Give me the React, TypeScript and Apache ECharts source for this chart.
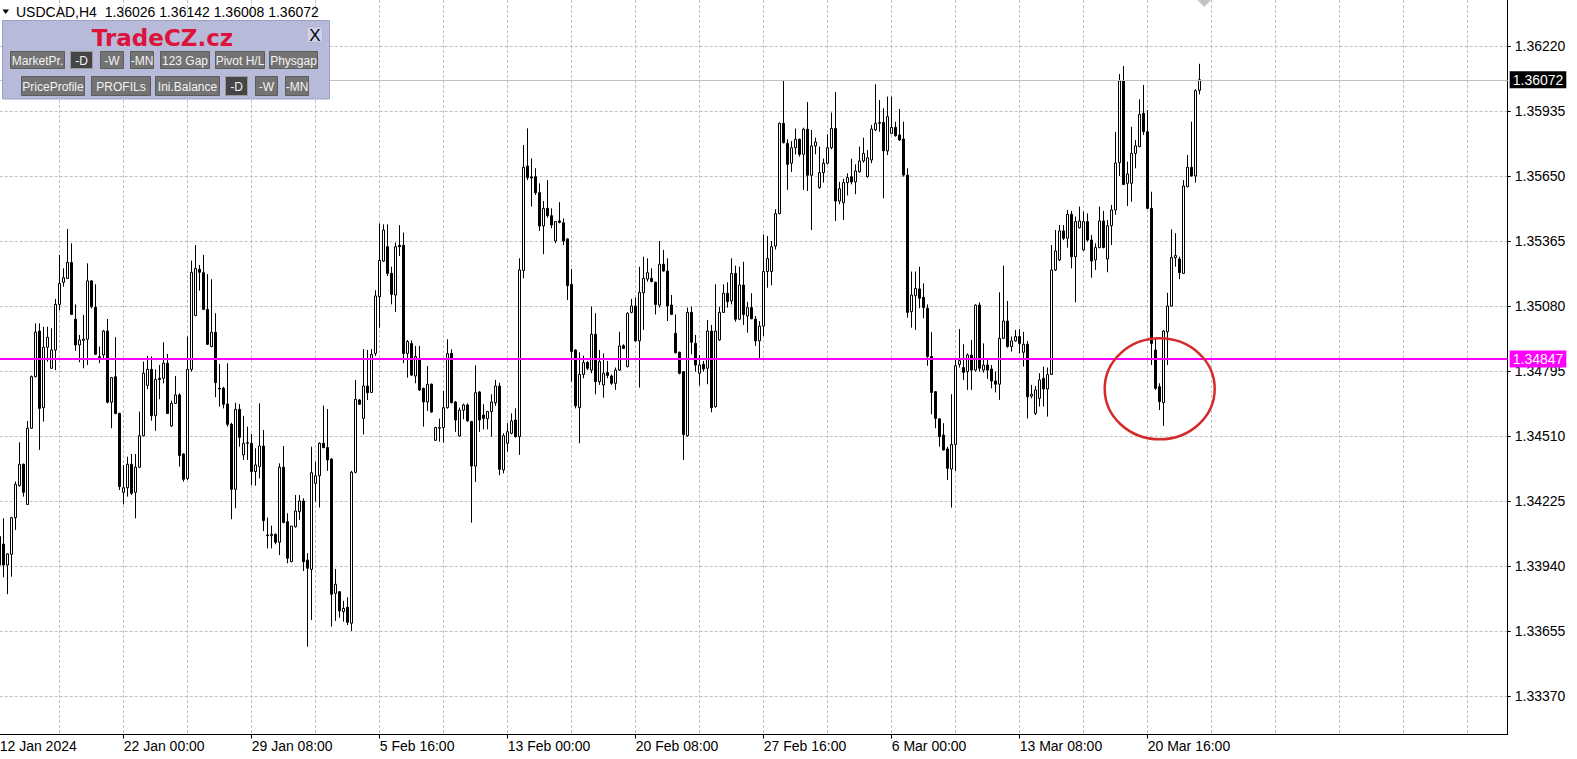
import React, { useEffect, useRef } from "react";
import * as echarts from "echarts";

// ---- Data (USDCAD, H4) : open / high / low / close per bar ----
const opens = [
  1.34069,1.34036,1.33944,1.33991,1.34152,1.34292,1.34386,1.34210,1.34544,1.34770,
  1.34970,1.34634,1.34899,1.34807,1.34887,1.35087,1.35184,1.35201,1.35271,1.35022,
  1.34909,1.34929,1.34934,1.35190,1.35074,1.34853,1.34865,1.34970,1.34658,1.34770,
  1.34609,1.34263,1.34283,1.34386,1.34263,1.34373,1.34511,1.34732,1.34802,1.34599,
  1.34763,1.34763,1.34829,1.34554,1.34653,1.34690,1.34431,1.34324,1.34802,1.35038,
  1.35241,1.35226,1.35065,1.34902,1.34965,1.34719,1.34719,1.34650,1.34561,1.34276,
  1.34627,1.34427,1.34478,1.34478,1.34354,1.34376,1.34466,1.34076,1.34073,1.34079,
  1.34044,1.34373,1.34134,1.33959,1.34112,1.34178,1.34225,1.33966,1.33925,1.34302,
  1.34336,1.34478,1.34459,1.34409,1.33820,1.33827,1.33740,1.33759,1.33689,1.34351,
  1.34668,1.34587,1.34729,1.34701,1.34872,1.35121,1.35277,1.35340,1.35223,1.35128,
  1.35346,1.35346,1.34872,1.34915,1.34773,1.34849,1.34719,1.34659,1.34737,1.34491,
  1.34544,1.34547,1.34634,1.34872,1.34659,1.34510,1.34623,1.34646,1.34573,1.34378,
  1.34703,1.34602,1.34586,1.34617,1.34656,1.34729,1.34361,1.34478,1.34522,1.34580,
  1.34507,1.35235,1.35694,1.35646,1.35647,1.35577,1.35431,1.35508,1.35476,1.35365,
  1.35453,1.35445,1.35374,1.35175,1.34887,1.34634,1.34780,1.34832,1.34799,1.34956,
  1.34748,1.34734,1.34788,1.34773,1.34741,1.34799,1.34906,1.34814,1.35052,1.35080,
  1.34927,1.35138,1.35198,1.35201,1.35184,1.35084,1.35263,1.35233,1.35084,1.34960,
  1.34877,1.34792,1.34511,1.35052,1.34916,1.34785,1.34824,1.34807,1.34970,1.34639,
  1.34931,1.35052,1.35136,1.35102,1.35223,1.35022,1.35172,1.35036,1.35073,1.35022,
  1.34927,1.34992,1.35231,1.35231,1.35343,1.35485,1.35881,1.35793,1.35706,1.35774,
  1.35811,1.35745,1.35855,1.35653,1.35782,1.35599,1.35665,1.35706,1.35774,1.35858,
  1.35540,1.35533,1.35621,1.35647,1.35624,1.35668,1.35716,1.35647,1.35720,1.35852,
  1.35881,1.35885,1.35760,1.35837,1.35863,1.35830,1.35812,1.35654,1.35055,1.35125,
  1.35155,1.35118,1.35070,1.34858,1.34704,1.34585,1.34514,1.34453,1.34365,1.34473,
  1.34824,1.34810,1.34792,1.34865,1.34799,1.35084,1.34799,1.34821,1.34804,1.34751,
  1.34737,1.34938,1.35014,1.34902,1.34927,1.34946,1.34877,1.34912,1.34685,1.34609,
  1.34675,1.34763,1.34716,1.34780,1.35238,1.35282,1.35409,1.35377,1.35482,1.35296,
  1.35423,1.35326,1.35450,1.35369,1.35282,1.35336,1.35453,1.35286,1.35432,1.35501,
  1.35708,1.36067,1.35618,1.35618,1.35749,1.35779,1.35925,1.35844,1.35508,1.34887,
  1.34726,1.34656,1.34967,1.35080,1.35292,1.35286,1.35223,1.35603,1.35688,1.35650,
  1.36026,
];
const highs = [
  1.34083,1.34149,1.33996,1.34155,1.34310,1.34482,1.34389,1.34576,1.34775,1.35004,
  1.35004,1.34989,1.34989,1.34982,1.35111,1.35304,1.35245,1.35418,1.35355,1.35087,
  1.34953,1.35041,1.35267,1.35193,1.35175,1.34902,1.34975,1.35023,1.34769,1.34943,
  1.34612,1.34383,1.34419,1.34431,1.34431,1.34617,1.34836,1.34861,1.34858,1.34802,
  1.34821,1.34921,1.34870,1.34665,1.34773,1.34697,1.34434,1.34946,1.35279,1.35347,
  1.35260,1.35304,1.35220,1.35197,1.35048,1.34826,1.34726,1.34829,1.34568,1.34656,
  1.34650,1.34598,1.34551,1.34519,1.34456,1.34653,1.34536,1.34152,1.34117,1.34082,
  1.34390,1.34466,1.34171,1.34115,1.34251,1.34251,1.34237,1.33996,1.34463,1.34397,
  1.34482,1.34643,1.34628,1.34412,1.33927,1.33830,1.33787,1.33803,1.34357,1.34756,
  1.34672,1.34891,1.34887,1.34891,1.35149,1.35442,1.35438,1.35438,1.35252,1.35358,
  1.35434,1.35402,1.34931,1.34929,1.34905,1.34905,1.34722,1.34817,1.34740,1.34550,
  1.34586,1.34707,1.34934,1.34890,1.34663,1.34634,1.34652,1.34653,1.34576,1.34820,
  1.34707,1.34649,1.34620,1.34693,1.34756,1.34744,1.34522,1.34566,1.34609,1.34631,
  1.35289,1.35786,1.35859,1.35727,1.35684,1.35618,1.35540,1.35632,1.35508,1.35453,
  1.35535,1.35464,1.35377,1.35242,1.34890,1.34877,1.34862,1.34839,1.35077,1.35048,
  1.34887,1.34872,1.34839,1.34780,1.34810,1.34967,1.34912,1.35052,1.35111,1.35117,
  1.35252,1.35296,1.35289,1.35245,1.35187,1.35365,1.35326,1.35289,1.35128,1.35043,
  1.34880,1.34795,1.35073,1.35077,1.34953,1.34865,1.34839,1.35019,1.34997,1.35175,
  1.35077,1.35175,1.35184,1.35289,1.35257,1.35252,1.35274,1.35098,1.35136,1.35036,
  1.35014,1.35394,1.35387,1.35365,1.35504,1.35884,1.36067,1.35811,1.35803,1.35858,
  1.35814,1.35862,1.35974,1.35852,1.35818,1.35779,1.35726,1.35833,1.35928,1.36018,
  1.35624,1.35638,1.35662,1.35726,1.35701,1.35779,1.35818,1.35764,1.35874,1.36052,
  1.35983,1.35947,1.35998,1.35998,1.35888,1.35944,1.35888,1.35684,1.35231,1.35231,
  1.35252,1.35179,1.35087,1.34965,1.34707,1.34587,1.34566,1.34463,1.34693,1.34843,
  1.34979,1.34912,1.34872,1.34931,1.35087,1.35096,1.34916,1.34843,1.34821,1.34792,
  1.35140,1.35257,1.35102,1.34946,1.34975,1.34979,1.34967,1.34927,1.34734,1.34729,
  1.34785,1.34814,1.34810,1.35347,1.35413,1.35435,1.35435,1.35501,1.35497,1.35472,
  1.35516,1.35494,1.35486,1.35391,1.35355,1.35516,1.35497,1.35457,1.35523,1.35843,
  1.36097,1.36132,1.35713,1.35866,1.35808,1.35986,1.36049,1.35939,1.35581,1.34938,
  1.34741,1.34975,1.35138,1.35416,1.35399,1.35296,1.35632,1.35742,1.35888,1.36030,
  1.36142,
];
const lows = [
  1.33930,1.33890,1.33816,1.33893,1.34098,1.34288,1.34244,1.34207,1.34541,1.34767,
  1.34449,1.34573,1.34836,1.34804,1.34799,1.35062,1.35165,1.35198,1.35041,1.34883,
  1.34833,1.34807,1.34821,1.35070,1.34865,1.34829,1.34848,1.34653,1.34544,1.34605,
  1.34273,1.34210,1.34244,1.34251,1.34149,1.34370,1.34508,1.34715,1.34577,1.34533,
  1.34671,1.34741,1.34606,1.34551,1.34650,1.34376,1.34310,1.34317,1.34792,1.35035,
  1.35147,1.35062,1.34909,1.34899,1.34680,1.34639,1.34631,1.34551,1.34145,1.34193,
  1.34463,1.34405,1.34405,1.34295,1.34292,1.34324,1.34093,1.34017,1.34017,1.34035,
  1.33988,1.34127,1.33952,1.33956,1.34108,1.34142,1.33918,1.33586,1.33703,1.34222,
  1.34196,1.34456,1.34357,1.33674,1.33699,1.33713,1.33696,1.33681,1.33655,1.34346,
  1.34646,1.34517,1.34668,1.34699,1.34861,1.34985,1.35274,1.35212,1.35087,1.35054,
  1.35299,1.34829,1.34766,1.34773,1.34741,1.34707,1.34551,1.34620,1.34612,1.34488,
  1.34485,1.34481,1.34630,1.34653,1.34528,1.34507,1.34583,1.34573,1.34130,1.34308,
  1.34528,1.34539,1.34539,1.34507,1.34642,1.34338,1.34346,1.34441,1.34517,1.34503,
  1.34427,1.35201,1.35632,1.35516,1.35567,1.35409,1.35307,1.35467,1.35421,1.35355,
  1.35442,1.35347,1.35106,1.34748,1.34631,1.34478,1.34763,1.34799,1.34785,1.34693,
  1.34734,1.34678,1.34763,1.34734,1.34712,1.34795,1.34891,1.34811,1.35048,1.34924,
  1.34722,1.34975,1.35187,1.35184,1.35043,1.35073,1.35231,1.35014,1.35041,1.34872,
  1.34780,1.34405,1.34507,1.34868,1.34792,1.34731,1.34792,1.34737,1.34614,1.34634,
  1.34928,1.35049,1.35073,1.35087,1.35011,1.35019,1.34997,1.34963,1.35022,1.34905,
  1.34846,1.34948,1.35160,1.35171,1.35328,1.35482,1.35793,1.35589,1.35668,1.35745,
  1.35735,1.35589,1.35584,1.35413,1.35745,1.35594,1.35621,1.35701,1.35767,1.35453,
  1.35526,1.35457,1.35565,1.35613,1.35570,1.35665,1.35708,1.35643,1.35706,1.35847,
  1.35844,1.35552,1.35742,1.35833,1.35822,1.35804,1.35647,1.35029,1.34985,1.34975,
  1.35070,1.35026,1.34818,1.34605,1.34544,1.34463,1.34446,1.34317,1.34196,1.34357,
  1.34810,1.34756,1.34712,1.34712,1.34792,1.34792,1.34788,1.34760,1.34719,1.34701,
  1.34668,1.34935,1.34897,1.34880,1.34924,1.34872,1.34814,1.34587,1.34675,1.34602,
  1.34639,1.34639,1.34595,1.34777,1.35233,1.35277,1.35369,1.35336,1.35245,1.35096,
  1.35420,1.35321,1.35362,1.35204,1.35238,1.35333,1.35333,1.35228,1.35347,1.35480,
  1.35650,1.35610,1.35518,1.35537,1.35684,1.35776,1.35830,1.35504,1.34821,1.34712,
  1.34624,1.34554,1.34821,1.35077,1.35252,1.35197,1.35220,1.35600,1.35647,1.35621,
  1.36008,
];
const closes = [
  1.33944,1.33944,1.33993,1.34152,1.34298,1.34386,1.34263,1.34544,1.34770,1.34965,
  1.34631,1.34899,1.34943,1.34887,1.35087,1.35179,1.35204,1.35271,1.35043,1.34909,
  1.34931,1.34935,1.35190,1.35077,1.34868,1.34858,1.34970,1.34658,1.34766,1.34609,
  1.34288,1.34283,1.34386,1.34259,1.34373,1.34511,1.34785,1.34802,1.34599,1.34758,
  1.34758,1.34829,1.34609,1.34653,1.34690,1.34424,1.34320,1.34802,1.35228,1.35245,
  1.35228,1.35065,1.34912,1.34965,1.34744,1.34716,1.34649,1.34561,1.34276,1.34627,
  1.34504,1.34478,1.34481,1.34354,1.34383,1.34466,1.34139,1.34073,1.34079,1.34044,
  1.34373,1.34131,1.33974,1.34115,1.34181,1.34225,1.33959,1.33930,1.34349,1.34335,
  1.34478,1.34459,1.34405,1.33816,1.33860,1.33743,1.33754,1.33693,1.34351,1.34671,
  1.34649,1.34729,1.34700,1.34868,1.35124,1.35280,1.35413,1.35223,1.35131,1.35340,
  1.35340,1.34872,1.34924,1.34777,1.34858,1.34712,1.34659,1.34737,1.34615,1.34547,
  1.34547,1.34634,1.34871,1.34656,1.34580,1.34623,1.34646,1.34576,1.34378,1.34700,
  1.34580,1.34587,1.34617,1.34659,1.34729,1.34364,1.34511,1.34529,1.34576,1.34507,
  1.35238,1.35688,1.35643,1.35641,1.35577,1.35431,1.35508,1.35476,1.35435,1.35450,
  1.35447,1.35365,1.35169,1.34880,1.34642,1.34780,1.34832,1.34807,1.34956,1.34748,
  1.34836,1.34785,1.34775,1.34741,1.34799,1.34905,1.34894,1.35048,1.35080,1.34927,
  1.35140,1.35201,1.35226,1.35187,1.35087,1.35263,1.35233,1.35080,1.35043,1.34875,
  1.34785,1.34517,1.35052,1.34921,1.34821,1.34821,1.34804,1.34970,1.34634,1.34970,
  1.35052,1.35136,1.35099,1.35223,1.35022,1.35172,1.35043,1.35073,1.35024,1.34927,
  1.34992,1.35231,1.35288,1.35340,1.35485,1.35881,1.35796,1.35701,1.35774,1.35811,
  1.35745,1.35855,1.35653,1.35782,1.35799,1.35665,1.35706,1.35774,1.35858,1.35540,
  1.35594,1.35621,1.35643,1.35624,1.35672,1.35716,1.35749,1.35730,1.35856,1.35881,
  1.35885,1.35760,1.35910,1.35863,1.35827,1.35808,1.35654,1.35052,1.35128,1.35157,
  1.35114,1.35073,1.34858,1.34701,1.34587,1.34507,1.34449,1.34368,1.34473,1.34818,
  1.34840,1.34789,1.34865,1.34799,1.35084,1.34807,1.34821,1.34799,1.34751,1.34737,
  1.34938,1.35014,1.34902,1.34927,1.34946,1.34916,1.34912,1.34682,1.34693,1.34712,
  1.34756,1.34716,1.34780,1.35238,1.35321,1.35409,1.35377,1.35482,1.35296,1.35450,
  1.35453,1.35450,1.35369,1.35277,1.35336,1.35453,1.35336,1.35432,1.35501,1.35707,
  1.36067,1.35613,1.35659,1.35749,1.35782,1.35920,1.35844,1.35508,1.34916,1.34719,
  1.34661,1.34970,1.35080,1.35293,1.35301,1.35226,1.35606,1.35688,1.35650,1.36024,
  1.36072,
];

const yTickValues = [1.3337, 1.33655, 1.3394, 1.34225, 1.3451, 1.34795, 1.3508, 1.35365, 1.3565, 1.35935, 1.3622];
const Y_MIN = 1.33201;
const Y_MAX = 1.364217;
const LEVEL_PRICE = 1.34847;
const LAST_PRICE = 1.36072;
const CIRCLE_BAR = 290;
const CIRCLE_PRICE = 1.34717;
const FIRST_BAR_UTC = Date.UTC(2024, 0, 12, 20, 0);
const FUTURE_BARS = 77;
const LABEL_EVERY = 32;
const LABEL_FIRST = 31;
const GRID_EVERY = 16;
const GRID_FIRST = 15;
const MONTHS = ["Jan", "Feb", "Mar", "Apr", "May", "Jun", "Jul", "Aug", "Sep", "Oct", "Nov", "Dec"];
const TITLE = "USDCAD,H4  1.36026 1.36142 1.36008 1.36072";

const FONT = "'Liberation Sans', Arial, sans-serif";

const panelButtons = [
  { label: "MarketPr.", x: 10, y: 51, w: 54, h: 17, active: false },
  { label: "-D", x: 70, y: 51, w: 22, h: 17, active: true },
  { label: "-W", x: 100, y: 51, w: 23, h: 17, active: false },
  { label: "-MN", x: 130, y: 51, w: 23, h: 17, active: false },
  { label: "123 Gap", x: 160, y: 51, w: 49, h: 17, active: false },
  { label: "Pivot H/L", x: 215, y: 51, w: 49, h: 17, active: false },
  { label: "Physgap", x: 269, y: 51, w: 48, h: 17, active: false },
  { label: "PriceProfile", x: 21, y: 76, w: 63, h: 19, active: false },
  { label: "PROFILs", x: 91, y: 76, w: 59, h: 19, active: false },
  { label: "Ini.Balance", x: 155, y: 76, w: 64, h: 19, active: false },
  { label: "-D", x: 225, y: 76, w: 22, h: 19, active: true },
  { label: "-W", x: 255, y: 76, w: 22, h: 19, active: false },
  { label: "-MN", x: 285, y: 76, w: 23, h: 19, active: false },
];

function barTimes(count: number): number[] {
  const out: number[] = [];
  let t = FIRST_BAR_UTC;
  while (out.length < count) {
    const wd = new Date(t).getUTCDay();
    if (wd !== 0 && wd !== 6) out.push(t);
    t += 4 * 3600 * 1000;
  }
  return out;
}
const pad = (n: number) => String(n).padStart(2, "0");
function fmtTime(t: number, first: boolean): string {
  const d = new Date(t);
  if (first) return `${d.getUTCDate()} ${MONTHS[d.getUTCMonth()]} ${d.getUTCFullYear()}`;
  return `${d.getUTCDate()} ${MONTHS[d.getUTCMonth()]} ${pad(d.getUTCHours())}:${pad(d.getUTCMinutes())}`;
}

export default function App() {
  const ref = useRef<HTMLDivElement>(null);

  useEffect(() => {
    if (!ref.current) return;
    const chart = echarts.init(ref.current, null, { renderer: "svg" });
    const nBars = opens.length;
    const nCats = nBars + FUTURE_BARS;
    const times = barTimes(nBars);
    const categories = Array.from({ length: nCats }, (_, i) => (i < nBars ? fmtTime(times[i], i === 0) : ""));
    const candles = opens.map((o, i) => [o, closes[i], lows[i], highs[i]]);

    const isLabel = (i: number) =>
      i === 0 || (i >= LABEL_FIRST && i < nBars && (i - LABEL_FIRST) % LABEL_EVERY === 0);
    const isGrid = (i: number) => i >= GRID_FIRST && (i - GRID_FIRST) % GRID_EVERY === 0;

    const gridLeft = -0.3;
    const gridWidth = (nCats - 1) * 4;
    const gridHeight = 734.5;

    const priceLabel = (bg: string, fg: string) => ({
      show: true,
      position: "end",
      distance: 2,
      formatter: (p: any) => Number(p.value).toFixed(5),
      backgroundColor: bg,
      color: fg,
      padding: [2, 3, 1, 3],
      fontFamily: FONT,
      fontSize: 14,
    });

    chart.setOption({
      animation: false,
      backgroundColor: "#ffffff",
      grid: {
        left: gridLeft,
        top: 0,
        width: gridWidth,
        height: gridHeight,
        containLabel: false,
        outerBoundsMode: "none",
      },
      xAxis: {
        type: "category",
        data: categories,
        boundaryGap: false,
        axisLine: { show: true, lineStyle: { color: "#000", width: 1 } },
        axisTick: { show: true, interval: (i: number) => isLabel(i) && i > 0, length: 4, lineStyle: { color: "#000" } },
        axisLabel: {
          show: true,
          interval: (i: number) => isLabel(i),
          align: "left",
          margin: 4,
          color: "#000",
          fontFamily: FONT,
          fontSize: 14,
        },
        splitLine: {
          show: true,
          interval: (i: number) => isGrid(i),
          lineStyle: { color: "#c0c0c0", type: [3, 2], width: 1 },
        },
      },
      yAxis: {
        type: "value",
        position: "right",
        min: Y_MIN,
        max: Y_MAX,
        scale: true,
        axisLine: { show: true, lineStyle: { color: "#000", width: 1 } },
        axisTick: { show: true, customValues: yTickValues, length: 3, lineStyle: { color: "#000" } },
        axisLabel: {
          show: true,
          customValues: yTickValues,
          formatter: (v: number) => Number(v).toFixed(5),
          margin: 7,
          color: "#000",
          fontFamily: FONT,
          fontSize: 14,
        },
        splitLine: { show: true, lineStyle: { color: "#c0c0c0", type: [3, 2], width: 1 } },
      },
      series: [
        {
          type: "candlestick",
          data: candles,
          barWidth: 2,
          large: false,
          clip: true,
          itemStyle: {
            color: "#ffffff",
            color0: "#000000",
            borderColor: "#000000",
            borderColor0: "#000000",
            borderColorDoji: "#000000",
            borderWidth: 1,
          },
          markLine: {
            silent: true,
            symbol: ["none", "none"],
            precision: 5,
            animation: false,
            data: [
              {
                yAxis: LAST_PRICE,
                lineStyle: { color: "#c0c0c0", width: 1, type: "solid" },
                label: priceLabel("#000000", "#ffffff"),
              },
              {
                yAxis: LEVEL_PRICE,
                lineStyle: { color: "#ff00ff", width: 2, type: "solid" },
                label: priceLabel("#ff00ff", "#ffffff"),
              },
            ],
          },
        },
      ],
    });

    const c = chart.convertToPixel({ xAxisIndex: 0, yAxisIndex: 0 }, [CIRCLE_BAR, CIRCLE_PRICE]) as number[];

    const buttons: any[] = [];
    panelButtons.forEach((b) => {
      buttons.push({
        type: "rect",
        shape: { x: b.x + 0.5, y: b.y + 0.5, width: b.w, height: b.h },
        style: { fill: b.active ? "#454545" : "#737373", stroke: b.active ? "#9a9a9a" : "#5c5c5c", lineWidth: 1 },
        z: 101,
      });
      buttons.push({
        type: "text",
        x: b.x + b.w / 2 + 0.5,
        y: b.y + b.h / 2 + 1,
        style: {
          text: b.label,
          fill: "#f2f2f2",
          font: `12px ${FONT}`,
          align: "center",
          verticalAlign: "middle",
        },
        z: 102,
      });
    });

    chart.setOption({
      graphic: [
        {
          type: "ellipse",
          shape: { cx: c[0], cy: c[1], rx: 55, ry: 50.5 },
          style: { fill: "none", stroke: "#d42a2a", lineWidth: 2.5 },
          z: 50,
        },
        {
          type: "polygon",
          shape: { points: [[1197.5, 0], [1211, 0], [1204.3, 7]] },
          style: { fill: "#c4c4c4" },
          z: 50,
        },
        {
          type: "polygon",
          shape: { points: [[2.5, 9.5], [9, 9.5], [5.75, 14]] },
          style: { fill: "#000" },
          z: 100,
        },
        {
          type: "text",
          x: 16,
          y: 12,
          style: { text: TITLE, fill: "#000", font: `14px ${FONT}`, verticalAlign: "middle" },
          z: 100,
        },
        {
          type: "rect",
          shape: { x: 2.5, y: 20.5, width: 327, height: 78.5 },
          style: { fill: "#b7bad8", stroke: "#9ca0c6", lineWidth: 1 },
          z: 100,
        },
        {
          type: "text",
          x: 162.5,
          y: 37.5,
          style: {
            text: "TradeCZ.cz",
            fill: "#dc143c",
            font: "bold 23px 'DejaVu Sans', sans-serif",
            align: "center",
            verticalAlign: "middle",
          },
          z: 101,
        },
        {
          type: "rect",
          shape: { x: 307, y: 27, width: 15.5, height: 15.5 },
          style: { fill: "#cfd2e6", stroke: "#b0b3cf", lineWidth: 1 },
          z: 101,
        },
        {
          type: "text",
          x: 314.8,
          y: 35.5,
          style: { text: "X", fill: "#000", font: `17px ${FONT}`, align: "center", verticalAlign: "middle" },
          z: 102,
        },
        ...buttons,
      ],
    });

    return () => chart.dispose();
  }, []);

  return (
    <div
      ref={ref}
      style={{ position: "fixed", left: 0, top: 0, width: 1577, height: 759, background: "#fff" }}
    />
  );
}
